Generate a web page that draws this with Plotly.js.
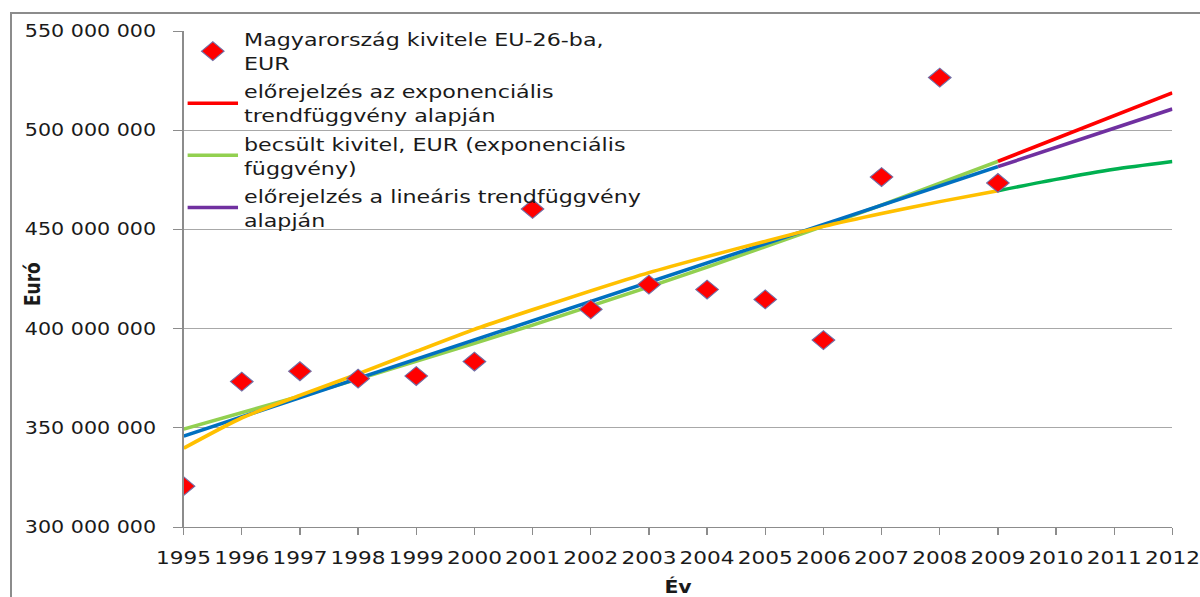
<!DOCTYPE html>
<html><head><meta charset="utf-8">
<script src="https://cdn.plot.ly/plotly-3.0.1.min.js"></script>
<style>
html,body{margin:0;padding:0;background:#fff;overflow:hidden;width:1200px;height:597px}
#wrap{position:absolute;left:0;top:0;width:1000px;height:597px;transform:scaleX(1.2);transform-origin:0 0}
#chart{width:1000px;height:597px}
#frame{position:absolute;left:10px;top:12px;width:1200px;height:600px;border:2px solid #8c8c8c;pointer-events:none;box-sizing:border-box}
</style></head><body>
<div id="wrap"><div id="chart"></div></div><div id="frame"></div>
<script>
// Years
const years = [1995,1996,1997,1998,1999,2000,2001,2002,2003,2004,2005,2006,2007,2008,2009];
const forecastYears = [2009,2010,2011,2012];
const tickYears = [1995,1996,1997,1998,1999,2000,2001,2002,2003,2004,2005,2006,2007,2008,2009,2010,2011,2012];
const tickLabels = ["1995","1996","1997","1998","1999","2000","2001","2002","2003","2004","2005","2006","2007","2008","2009","2010","2011","2012"];

// Hungary's exports to EU-26, EUR (red diamonds)
const exportValues = [320600000,373300000,378500000,374800000,376100000,383400000,460300000,409700000,422200000,419700000,414700000,394200000,476400000,526500000,473400000];
// Estimated exports, exponential fit (light green)
const expFit = [349300000,357500000,366000000,374600000,383500000,392500000,401800000,411300000,421000000,431000000,441200000,451600000,462200000,473100000,484300000];
// Linear trend (blue)
const linFit = [345800000,355500000,365200000,374900000,384600000,394300000,404000000,413700000,423400000,433100000,442800000,452500000,462200000,471900000,481600000];
// Polynomial trend (yellow)
const polyFit = [339700000,355000000,366300000,377200000,388500000,399600000,409500000,419000000,428200000,436300000,444000000,451500000,458000000,464000000,469500000];
// Forecast, exponential trend (red)
const expForecast = [484300000,495700000,507200000,518800000];
// Forecast, linear trend (purple)
const linForecast = [481600000,491300000,501000000,510700000];
// Forecast continuing polynomial (dark green)
const polyForecast = [469500000,475200000,480300000,484200000];

const legendNames = [
  "Magyarország kivitele EU-26-ba,<br>EUR",
  "előrejelzés az exponenciális<br>trendfüggvény alapján",
  "becsült kivitel, EUR (exponenciális<br>függvény)",
  "előrejelzés a lineáris trendfüggvény<br>alapján"
];

const font = "DejaVu Sans, sans-serif";
const lw = 3.5;

const traces = [
  {x: years, y: expFit, type:'scatter', mode:'lines', name: legendNames[2], legendrank: 3, legendgroup:'g3',
   line:{color:'#92d050', width: lw}},
  {x: years, y: linFit, type:'scatter', mode:'lines', showlegend:false,
   line:{color:'#0070c0', width: lw}},
  {x: years, y: polyFit, type:'scatter', mode:'lines', showlegend:false,
   line:{color:'#ffc000', width: lw, shape:'spline', smoothing:0.6}},
  {x: forecastYears, y: expForecast, type:'scatter', mode:'lines', name: legendNames[1], legendrank: 2, legendgroup:'g2',
   line:{color:'#ff0000', width: lw}},
  {x: forecastYears, y: linForecast, type:'scatter', mode:'lines', name: legendNames[3], legendrank: 4, legendgroup:'g4',
   line:{color:'#7030a0', width: lw}},
  {x: forecastYears, y: polyForecast, type:'scatter', mode:'lines', showlegend:false,
   line:{color:'#00b050', width: lw, shape:'spline', smoothing:0.6}},
  {x: years, y: exportValues, type:'scatter', mode:'markers', name: legendNames[0], legendrank: 1, legendgroup:'g1',
   marker:{symbol:'diamond', size:14.5, color:'#ff0000', line:{color:'#7070a8', width:1}}}
];

const layout = {
  width: 1000, height: 597,
  margin: {l:153.33, r:23.33, t:31, b:70},
  paper_bgcolor:'rgba(0,0,0,0)', plot_bgcolor:'#ffffff',
  separators: ', ',
  font: {family: font, size: 17, color:'#1a1a1a'},
  showlegend: true,
  legend: {x: -0.002, y: 1.021, xanchor:'left', yanchor:'top', bgcolor:'rgba(0,0,0,0)',
           itemwidth: 42, font:{family: font, size: 18.5, color:'#1a1a1a'}, tracegroupgap: 1},
  xaxis: {
    range:[1995, 2012], tickmode:'array', tickvals: tickYears, ticktext: tickLabels,
    ticks:'outside', ticklen:7, tickcolor:'#8c8c8c', tickwidth:1,
    showline:true, linecolor:'#8c8c8c', linewidth:1, showgrid:false, zeroline:false,
    tickfont:{family: font, size:18, color:'#1a1a1a'},
    ticklabelstandoff: 7,
    title:{text:'Év', font:{family: font, size:17, color:'#1a1a1a', weight:'bold'}, standoff: 20}
  },
  yaxis: {
    range:[300000000, 550000000], dtick:50000000, tick0:0, tickformat:',d',
    ticks:'outside', ticklen:7.5, tickcolor:'#8c8c8c', tickwidth:1,
    showline:true, linecolor:'#8c8c8c', linewidth:1,
    showgrid:true, gridcolor:'#a8a8a8', gridwidth:1, zeroline:false,
    tickfont:{family: font, size:17.2, color:'#1a1a1a'},
    ticklabelstandoff: 11
  },
  annotations: [
    {text:'Euró', xref:'paper', yref:'paper', x:-0.1528, y:0.49, xanchor:'center', yanchor:'middle',
     textangle:-90, showarrow:false,
     font:{family: font, size:17, color:'#1a1a1a', weight:'bold'}}
  ]
};

Plotly.newPlot('chart', traces, layout, {displayModeBar:false, staticPlot:true});
</script>
</body></html>
